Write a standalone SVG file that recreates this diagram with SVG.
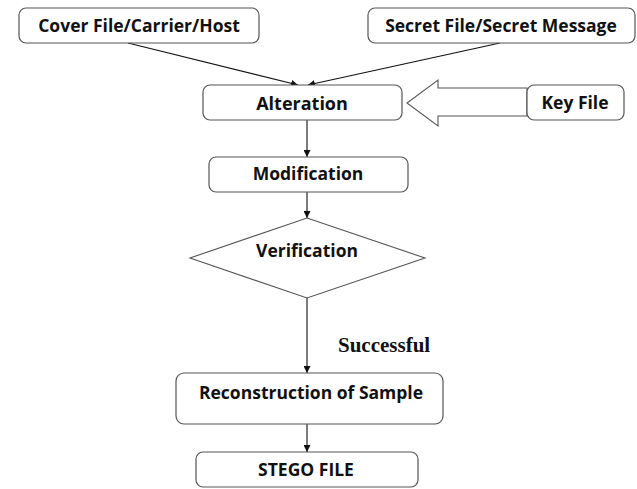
<svg xmlns="http://www.w3.org/2000/svg" width="637" height="489" viewBox="0 0 637 489">
<style>
.box{fill:#fff;stroke:#555;stroke-width:1.2}
.t{font-family:"Open Sans","Liberation Sans",sans-serif;font-weight:bold;font-size:17.5px;fill:#111;text-anchor:middle;dominant-baseline:central}
.c{stroke:#111;stroke-width:1.1;fill:none}
</style>
<defs>
<marker id="ah" viewBox="0 0 10 10" refX="10" refY="5" markerWidth="7" markerHeight="7" orient="auto" markerUnits="userSpaceOnUse">
<path d="M0,0 L10,5 L0,10 z" fill="#111"/>
</marker>
</defs>
<rect width="637" height="489" fill="#fff"/>
<g id="connectors">
<line class="c" x1="128" y1="43" x2="298" y2="85" marker-end="url(#ah)"/>
<line class="c" x1="500" y1="43" x2="308" y2="85" marker-end="url(#ah)"/>
<line class="c" x1="307" y1="120" x2="307" y2="157" marker-end="url(#ah)"/>
<line class="c" x1="307" y1="192" x2="307" y2="218" marker-end="url(#ah)"/>
<line class="c" x1="307" y1="298" x2="307" y2="373" marker-end="url(#ah)"/>
<line class="c" x1="307" y1="424" x2="307" y2="452" marker-end="url(#ah)"/>
<polygon points="527,88 438,88 438,80 407,103 438,126 438,116 527,116" fill="#fff" stroke="#555" stroke-width="1.1"/>
<text x="338" y="352" font-family="Liberation Serif,serif" font-weight="bold" font-size="21" fill="#111">Successful</text>
</g>
<g id="cover"><rect class="box" x="19" y="8" width="240" height="35" rx="7"/><text class="t" x="139" y="25">Cover File/Carrier/Host</text></g>
<g id="secret"><rect class="box" x="368" y="8" width="267" height="35" rx="7"/><text class="t" x="501" y="25">Secret File/Secret Message</text></g>
<g id="alteration"><rect class="box" x="203" y="85" width="199" height="35" rx="7"/><text class="t" x="302" y="103" style="font-size:18px">Alteration</text></g>
<g id="keyfile"><rect class="box" x="527" y="85" width="97" height="35" rx="7"/><text class="t" x="575" y="102">Key File</text></g>
<g id="modification"><rect class="box" x="209" y="157" width="199" height="35" rx="7"/><text class="t" x="308" y="173">Modification</text></g>
<g id="verification"><polygon points="307,218 425,258 307,298 190,258" fill="#fff" stroke="#555" stroke-width="1.1"/><text class="t" x="307" y="250">Verification</text></g>
<g id="reconstruction"><rect class="box" x="176" y="373" width="267" height="51" rx="8"/><text class="t" x="311" y="392">Reconstruction of Sample</text></g>
<g id="stego"><rect class="box" x="196" y="452" width="222" height="35" rx="7"/><text class="t" x="306" y="469">STEGO FILE</text></g>
</svg>
